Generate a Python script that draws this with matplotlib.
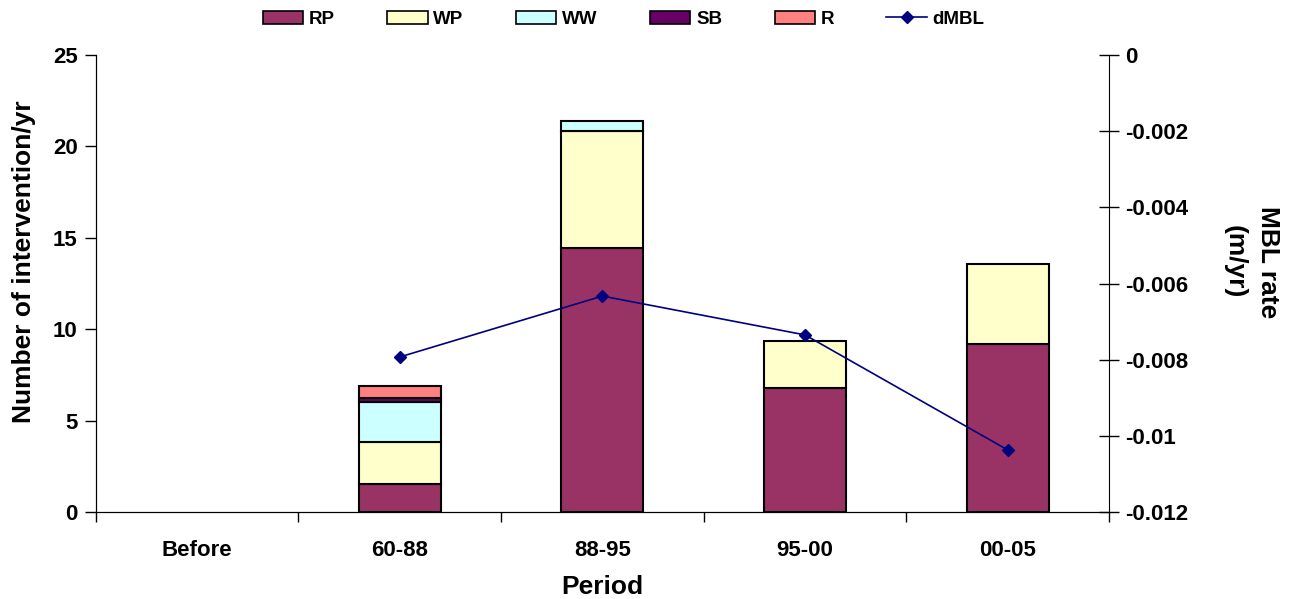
import numpy as np
from matplotlib import pyplot

pyplot.rcParams['font.family'] = ['Liberation Sans', 'DejaVu Sans']
pyplot.rcParams['font.weight'] = 'bold'

# data
periods = ['Before', '60-88', '88-95', '95-00', '00-05']
rp = [0, 1.53, 14.44, 6.78, 9.19]
wp = [0, 2.30, 6.40, 2.57, 4.38]
ww = [0, 2.19, 0.55, 0, 0]
sb = [0, 0.22, 0, 0, 0]
r = [0, 0.66, 0, 0, 0]
dmbl = [np.nan, -0.00793, -0.00633, -0.00735, -0.01037]

series = [('RP', rp, '#993366'), ('WP', wp, '#FFFFCC'), ('WW', ww, '#CCFFFF'),
          ('SB', sb, '#660066'), ('R', r, '#FF8080')]

fig = pyplot.figure(figsize=(12.94, 5.99), dpi=100)
ax = fig.add_axes([95.7 / 1294, 1 - 512 / 599, (1109 - 95.7) / 1294, (512 - 55) / 599])
x = np.arange(len(periods))
bottom = np.zeros(len(periods))
handles = []
for name, vals, col in series:
    vals = np.array(vals)
    mask = vals > 0
    ax.bar(x[mask], vals[mask], 0.404, bottom=bottom[mask], color=col,
           edgecolor='black', linewidth=1.5, zorder=2)
    handles.append(pyplot.Rectangle((0, 0), 1, 1, facecolor=col, edgecolor='black', linewidth=1.2, label=name))
    bottom += vals

ax.set_xlim(-0.5, 4.5)
ax.set_ylim(0, 25)
ax.set_yticks([0, 5, 10, 15, 20, 25])
ax.set_xticks(x)
ax.set_xticklabels(periods)
ax.set_xticks(np.arange(-0.5, 5, 1), minor=True)
ax.tick_params(axis='x', which='major', length=0, pad=20, labelsize=16)
ax.tick_params(axis='x', which='minor', length=7, width=1)
ax.tick_params(axis='y', length=8, width=1, labelsize=16, pad=5)
ax.spines['top'].set_visible(False)
ax.spines['right'].set_visible(False)
ax.set_xlabel('Period', fontsize=19, fontweight='bold', labelpad=10)
ax.set_ylabel('Number of intervention/yr', fontsize=19, fontweight='bold', labelpad=12)
ax.yaxis.label.set_y(0.547)

ax2 = ax.twinx()
line, = ax2.plot(x, dmbl, color='#000080', marker='D', markersize=6, linewidth=1.2, label='dMBL')
ax2.set_xlim(-0.5, 4.5)
ax2.set_ylim(-0.012, 0)
ax2.set_yticks([0, -0.002, -0.004, -0.006, -0.008, -0.01, -0.012])
ax2.set_yticklabels(['0', '-0.002', '-0.004', '-0.006', '-0.008', '-0.01', '-0.012'])
ax2.tick_params(axis='y', direction='inout', length=15, width=1, labelsize=16, pad=4)
ax2.spines['top'].set_visible(False)
ax2.set_ylabel('MBL rate\n(m/yr)', fontsize=19, fontweight='bold', rotation=-90,
               labelpad=66, linespacing=1.5)
ax2.yaxis.label.set_y(0.547)

fig.legend(handles=handles + [line], loc='upper center', bbox_to_anchor=(0.482, 1.01),
           ncol=6, frameon=False, fontsize=13.5, handlelength=2.15, handleheight=0.65,
           columnspacing=2.8, handletextpad=0.3)

fig.savefig('out.png', dpi=100)
